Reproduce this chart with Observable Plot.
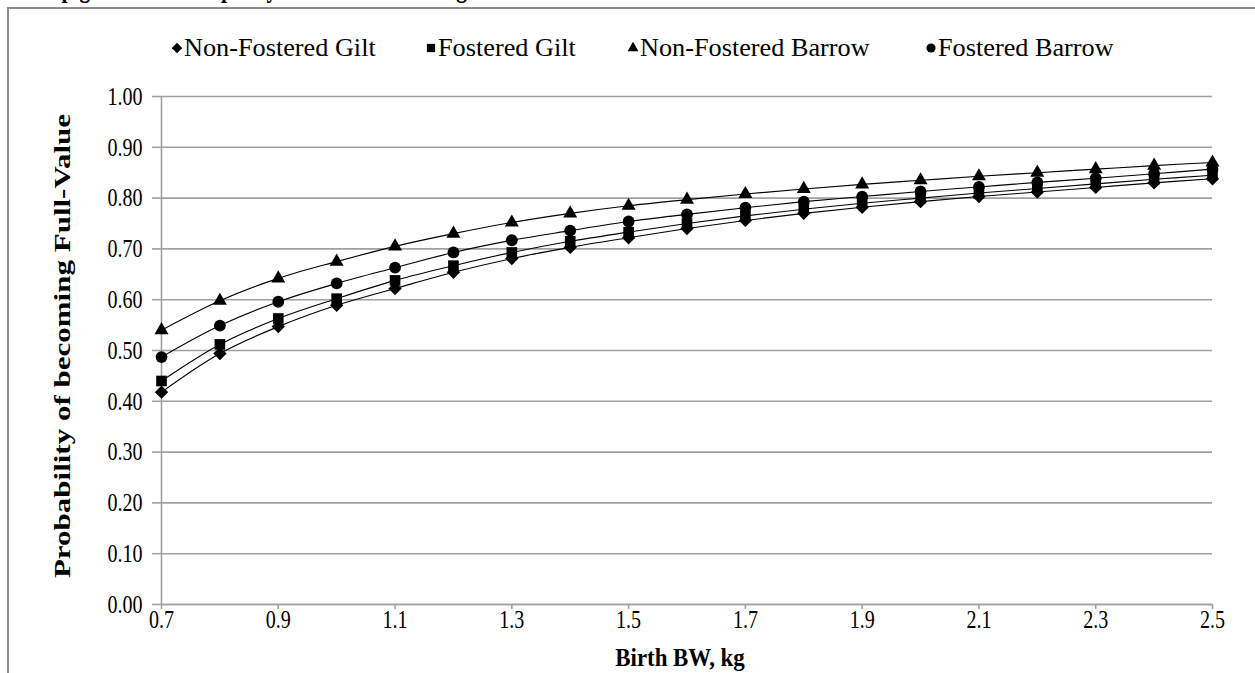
<!DOCTYPE html>
<html>
<head>
<meta charset="utf-8">
<script src="https://cdn.jsdelivr.net/npm/d3@7"></script>
<script src="https://cdn.jsdelivr.net/npm/@observablehq/plot@0.6"></script>
<style>
  body { margin: 0; background: #fff; font-family: "Liberation Serif", "Times New Roman", serif; color: #000; }
  #wrap { position: relative; width: 1255px; height: 673px; overflow: hidden; background: #fff; }
  #frame { position: absolute; left: 7px; top: 7px; width: 1300px; height: 720px; border: 2px solid #8c8c8c; box-sizing: border-box; }
  #title { position: absolute; left: 0; top: 0; width: 1255px; height: 7px; overflow: hidden; }
  #title span { position: absolute; left: 4px; top: -26px; font-size: 28px; line-height: 1; font-weight: bold; white-space: nowrap; transform: scaleX(0.77); transform-origin: 0 0; }
  #chart { position: absolute; left: 0; top: 0; }
  .legend-item { position: absolute; top: 33px; height: 30px; font-size: 25px; line-height: 30px; white-space: nowrap; }
  .legend-item svg { position: absolute; left: 0; top: 9px; }
  .legend-item span { position: absolute; left: 12px; top: 0; transform: scaleX(1.05); transform-origin: 0 50%; }
  #xtitle { position: absolute; top: 643px; left: 680px; font-size: 26px; line-height: 30px; font-weight: bold; white-space: nowrap; transform: translateX(-50%) scaleX(0.88); }
  #ytitle { position: absolute; left: 62px; top: 346px; font-size: 31px; line-height: 32px; font-weight: bold; white-space: nowrap; transform: translate(-50%, -50%) rotate(-90deg) scaleY(0.77); }
</style>
</head>
<body>
<div id="wrap">
  <div id="title"><span>of the pig weaned from parity 3 sows at the average.</span></div>
  <div id="frame"></div>
  <div id="chart"></div>
  <div id="legend"></div>
  <div id="xtitle">Birth BW, kg</div>
  <div id="ytitle">Probability of becoming Full-Value</div>
</div>
<script>
// Birth body weight (kg) at which each probability is evaluated
const birthBW = [0.7, 0.8, 0.9, 1.0, 1.1, 1.2, 1.3, 1.4, 1.5, 1.6, 1.7, 1.8, 1.9, 2.0, 2.1, 2.2, 2.3, 2.4, 2.5];

// Probability of becoming a full-value pig, by sex and fostering status
const nonFosteredGilt   = [0.418, 0.494, 0.547, 0.589, 0.622, 0.654, 0.681, 0.703, 0.722, 0.740, 0.756, 0.770, 0.782, 0.793, 0.803, 0.812, 0.821, 0.830, 0.838];
const fosteredGilt      = [0.440, 0.512, 0.563, 0.602, 0.638, 0.667, 0.693, 0.715, 0.733, 0.750, 0.765, 0.778, 0.790, 0.800, 0.810, 0.819, 0.828, 0.837, 0.845];
const nonFosteredBarrow = [0.540, 0.598, 0.642, 0.675, 0.705, 0.730, 0.752, 0.770, 0.785, 0.797, 0.808, 0.818, 0.827, 0.835, 0.843, 0.850, 0.857, 0.864, 0.870];
const fosteredBarrow    = [0.487, 0.549, 0.596, 0.632, 0.663, 0.693, 0.717, 0.736, 0.754, 0.768, 0.781, 0.793, 0.803, 0.813, 0.822, 0.831, 0.839, 0.848, 0.857];

const seriesNames = ["Non-Fostered Gilt", "Fostered Gilt", "Non-Fostered Barrow", "Fostered Barrow"];
const seriesValues = [nonFosteredGilt, fosteredGilt, nonFosteredBarrow, fosteredBarrow];
const seriesSymbols = ["diamond2", "square", "triangle", "circle"];
const seriesRadius = [6.0, 6.0, 5.2, 5.9];

const yTicks = [0, 0.1, 0.2, 0.3, 0.4, 0.5, 0.6, 0.7, 0.8, 0.9, 1.0];
const xTicks = [0.7, 0.9, 1.1, 1.3, 1.5, 1.7, 1.9, 2.1, 2.3, 2.5];

const rows = seriesNames.flatMap((name, i) =>
  birthBW.map((bw, j) => ({series: name, bw, p: seriesValues[i][j]}))
);

const gray = "#a0a0a0";
const squeeze = 0.77; // horizontal condensing of the serif tick labels

const chart = Plot.plot({
  width: 1255,
  height: 673,
  marginLeft: 161,
  marginRight: 43,
  marginTop: 96,
  marginBottom: 69,
  style: {fontFamily: "'Liberation Serif', 'Times New Roman', serif", fontSize: "26px", color: "#000", background: "transparent", overflow: "visible"},
  x: {domain: [0.7, 2.5]},
  y: {domain: [0, 1]},
  symbol: {domain: seriesNames, range: seriesSymbols},
  marks: [
    Plot.gridY(yTicks, {stroke: gray, strokeOpacity: 1, strokeWidth: 1.6}),
    Plot.axisY(yTicks, {tickSize: 9, tickPadding: 10, stroke: gray, strokeWidth: 1.6, fill: "#000", tickFormat: d3.format(".2f"), label: null}),
    Plot.axisX(xTicks, {tickSize: 5, tickPadding: 0, stroke: gray, strokeWidth: 1.6, fill: "#000", tickFormat: d3.format(".1f"), label: null}),
    Plot.ruleX([0.7], {y1: 0, y2: 1, stroke: gray, strokeWidth: 1.6}),
    Plot.ruleY([0], {stroke: gray, strokeWidth: 1.6}),
    Plot.line(rows, {x: "bw", y: "p", z: "series", curve: "catmull-rom", stroke: "#000", strokeWidth: 1.1}),
    ...seriesNames.map((name, i) =>
      Plot.dot(rows.filter(d => d.series === name), {x: "bw", y: "p", symbol: "series", r: seriesRadius[i], fill: "#000", stroke: "none"})
    )
  ]
});

// Condense the tick labels horizontally about their own anchor points
d3.select(chart).selectAll("text").each(function() {
  const t = this.getAttribute("transform") || "";
  const x = +this.getAttribute("x") || 0;
  this.setAttribute("transform", `${t} translate(${x},0) scale(${squeeze},1) translate(${-x},0)`);
});
document.getElementById("chart").append(chart);

// Legend centred across the top of the chart area
const legendLeft = [172, 426, 628, 926];
const legend = document.getElementById("legend");
const symbolTypes = {diamond2: d3.symbolDiamond2, square: d3.symbolSquare, triangle: d3.symbolTriangle, circle: d3.symbolCircle};
seriesNames.forEach((name, i) => {
  const item = document.createElement("div");
  item.className = "legend-item";
  item.style.left = legendLeft[i] + "px";
  const size = Math.PI * seriesRadius[i] * seriesRadius[i] * 0.6;
  const path = d3.symbol(symbolTypes[seriesSymbols[i]], size)();
  item.innerHTML = `<svg width="10" height="12" viewBox="-5 -6 10 12"><path d="${path}" fill="#000"></path></svg><span>${name}</span>`;
  legend.append(item);
});
</script>
</body>
</html>
